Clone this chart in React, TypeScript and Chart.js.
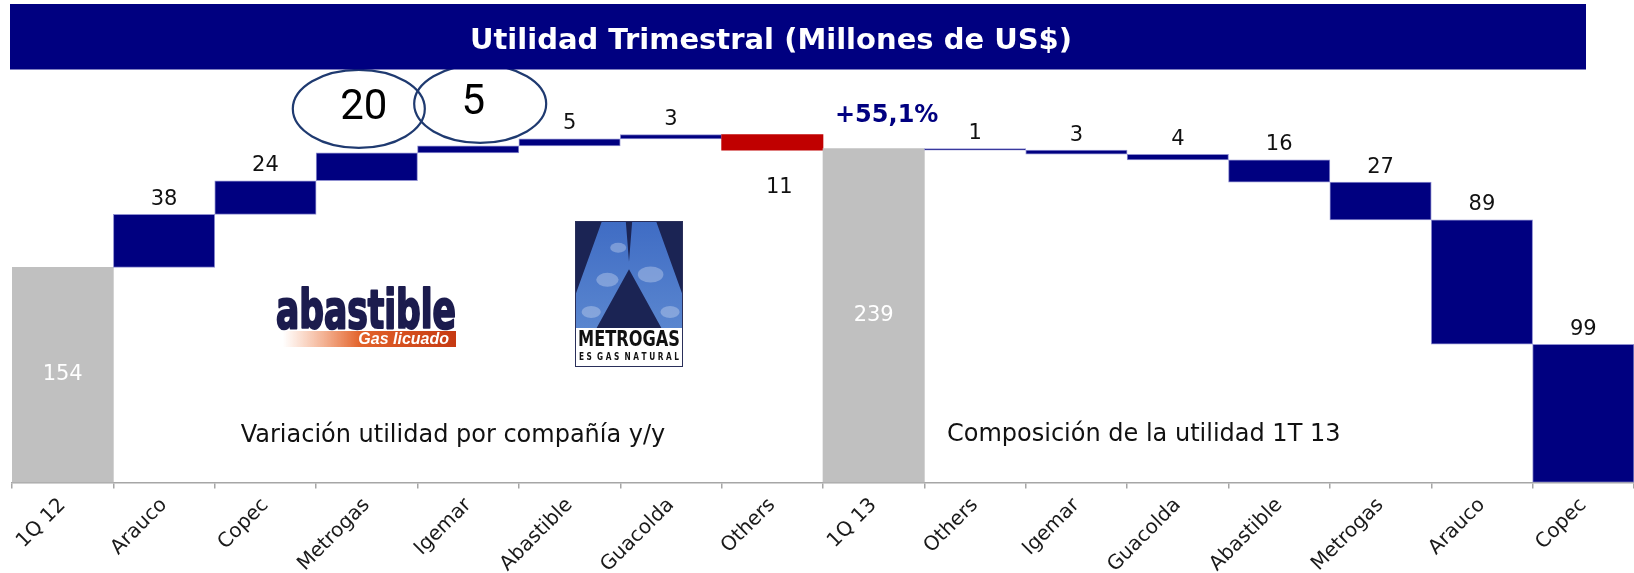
import React, { useEffect, useRef } from 'react';
import { Chart, registerables } from 'chart.js';

Chart.register(...registerables);

// ---------- data ----------
const titleText = 'Utilidad Trimestral (Millones de US$)';
const startLabel = '1Q 12';
const startValue = 154;
const varCompanies = ['Arauco', 'Copec', 'Metrogas', 'Igemar', 'Abastible', 'Guacolda', 'Others'];
const varValues = [38, 24, 20, 5, 5, 3, -11];
const endLabel = '1Q 13';
const endValue = 239;
const compCompanies = ['Others', 'Igemar', 'Guacolda', 'Abastible', 'Metrogas', 'Arauco', 'Copec'];
const compValues = [1, 3, 4, 16, 27, 89, 99];
const circledCompanies = ['Metrogas', 'Igemar'];
const growthLabel = '+55,1%';
const leftNote = 'Variación utilidad por compañía y/y';
const rightNote = 'Composición de la utilidad 1T 13';

// ---------- derived tables ----------
const categories = [startLabel, ...varCompanies, endLabel, ...compCompanies];
const kinds: string[] = ['total', ...varCompanies.map(() => 'var'), 'total', ...compCompanies.map(() => 'comp')];
const labelValues = [startValue, ...varValues, endValue, ...compValues];
const ranges: number[][] = [];
{
  let run = startValue;
  ranges.push([0, startValue]);
  varValues.forEach((v) => {
    ranges.push([run, run + v]);
    run += v;
  });
  ranges.push([0, endValue]);
  run = endValue;
  compValues.forEach((v) => {
    ranges.push([run, run - v]);
    run -= v;
  });
}
const circledIdx = circledCompanies.map((n) => 1 + varCompanies.indexOf(n));
const endIdx = 1 + varCompanies.length;

const NAVY = '#000080';
const GRAY = '#C0C0C0';
const RED = '#C00000';
const FONT = '"DejaVu Sans", Verdana, sans-serif';

const fillColors = ranges.map((r, i) => {
  if (kinds[i] === 'total') return GRAY;
  if (kinds[i] === 'var' && labelValues[i] < 0) return RED;
  return NAVY;
});
const borderColors = ranges.map((r, i) => (fillColors[i] === NAVY ? '#8f8fd0' : 'rgba(0,0,0,0)'));
const borderWidths = ranges.map((r, i) => (fillColors[i] === NAVY ? 1 : 0));

function drawAbastible(ctx: CanvasRenderingContext2D, x: number, y: number) {
  ctx.save();
  ctx.fillStyle = '#1c1c4e';
  ctx.strokeStyle = '#1c1c4e';
  ctx.lineWidth = 2.2;
  ctx.lineJoin = 'round';
  ctx.font = `bold 54px "DejaVu Sans Condensed", "Liberation Sans Narrow", "DejaVu Sans", sans-serif`;
  ctx.textAlign = 'left';
  ctx.textBaseline = 'alphabetic';
  ctx.fillText('abastible', x + 1, y + 38, 180);
  ctx.strokeText('abastible', x + 1, y + 38, 180);
  const g = ctx.createLinearGradient(x + 8, 0, x + 180, 0);
  g.addColorStop(0, 'rgba(240,120,60,0)');
  g.addColorStop(0.45, '#e2622a');
  g.addColorStop(1, '#c63a12');
  ctx.fillStyle = g;
  ctx.fillRect(x + 8, y + 41, 173, 16);
  ctx.fillStyle = '#ffffff';
  ctx.font = `italic bold 16px "Liberation Sans", Arial, sans-serif`;
  ctx.textAlign = 'right';
  ctx.textBaseline = 'middle';
  ctx.fillText('Gas licuado', x + 174, y + 49.5);
  ctx.restore();
}

function drawMetrogas(ctx: CanvasRenderingContext2D, x: number, y: number) {
  const w = 108;
  const h = 107;
  const total = 146;
  ctx.save();
  ctx.fillStyle = '#ffffff';
  ctx.fillRect(x, y, w, total);
  ctx.fillStyle = '#1b2454';
  ctx.fillRect(x, y, w, h);
  const g = ctx.createLinearGradient(0, y, 0, y + h);
  g.addColorStop(0, '#3f6cc4');
  g.addColorStop(1, '#5a86cf');
  ctx.fillStyle = g;
  ctx.beginPath();
  const P = (fx: number, fy: number) => [x + fx * w, y + fy * h];
  const pts = [
    P(0.25, 0), P(0.47, 0), P(0.5, 0.38), P(0.53, 0), P(0.75, 0), P(1, 0.7), P(1, 1),
    P(0.8, 1), P(0.5, 0.45), P(0.2, 1), P(0, 1), P(0, 0.7),
  ];
  pts.forEach((p, i) => (i === 0 ? ctx.moveTo(p[0], p[1]) : ctx.lineTo(p[0], p[1])));
  ctx.closePath();
  ctx.fill();
  ctx.fillStyle = 'rgba(220,230,245,0.35)';
  [[0.3, 0.55, 7], [0.7, 0.5, 8], [0.15, 0.85, 6], [0.88, 0.85, 6], [0.4, 0.25, 5]].forEach((c) => {
    ctx.beginPath();
    ctx.ellipse(x + c[0] * w, y + c[1] * h, c[2] * 1.6, c[2], 0, 0, Math.PI * 2);
    ctx.fill();
  });
  ctx.strokeStyle = '#2a2f5a';
  ctx.lineWidth = 1;
  ctx.strokeRect(x + 0.5, y + 0.5, w - 1, total - 1);
  ctx.fillStyle = '#111111';
  ctx.textAlign = 'center';
  ctx.textBaseline = 'middle';
  ctx.font = `bold 22px "DejaVu Sans Condensed", "Liberation Sans Narrow", sans-serif`;
  ctx.fillText('METROGAS', x + w / 2, y + 119, w - 6);
  ctx.font = `bold 11px "DejaVu Sans Condensed", "Liberation Sans Narrow", sans-serif`;
  ctx.fillText('E S  G A S  N A T U R A L', x + w / 2, y + 136, w - 8);
  ctx.restore();
}

const decorPlugin = {
  id: 'waterfallDecor',
  afterDatasetsDraw(chart: any) {
    const ctx: CanvasRenderingContext2D = chart.ctx;
    const bars = chart.getDatasetMeta(0).data;
    const area = chart.chartArea;
    ctx.save();
    ctx.textAlign = 'center';
    ctx.textBaseline = 'middle';
    bars.forEach((el: any, i: number) => {
      const p = el.getProps(['x', 'y', 'base'], true);
      const top = Math.min(p.y, p.base);
      const bottom = Math.max(p.y, p.base);
      const txt = String(Math.abs(labelValues[i]));
      if (kinds[i] === 'total') {
        ctx.fillStyle = '#ffffff';
        ctx.font = `21px ${FONT}`;
        ctx.fillText(txt, p.x, (top + bottom) / 2);
      } else if (circledIdx.includes(i)) {
        // drawn below as callouts
      } else if (labelValues[i] < 0 && kinds[i] === 'var') {
        ctx.fillStyle = '#111111';
        ctx.font = `21px ${FONT}`;
        ctx.fillText(txt, p.x + 7, bottom + 37);
      } else {
        ctx.fillStyle = '#111111';
        ctx.font = `21px ${FONT}`;
        ctx.fillText(txt, p.x, top - 15);
      }
    });
    const dxs = [-8, 12];
    const tdx = [-3, 5];
    const dys = [44, 42];
    circledIdx.forEach((idx, k) => {
      const p = bars[idx].getProps(['x', 'y', 'base'], true);
      const top = Math.min(p.y, p.base);
      ctx.strokeStyle = '#1f3a70';
      ctx.lineWidth = 2.2;
      ctx.beginPath();
      ctx.ellipse(p.x + dxs[k], top - dys[k], 66, 39, 0, 0, Math.PI * 2);
      ctx.stroke();
      ctx.fillStyle = '#000000';
      ctx.font = `42px Roboto, "Liberation Sans", sans-serif`;
      ctx.fillText(String(Math.abs(labelValues[idx])), p.x + tdx[k], top - dys[k]);
    });
    {
      const p = bars[endIdx].getProps(['x', 'y', 'base'], true);
      const top = Math.min(p.y, p.base);
      ctx.fillStyle = NAVY;
      ctx.font = `bold 24px ${FONT}`;
      ctx.fillText(growthLabel, p.x + 13, top - 33);
    }
    ctx.fillStyle = '#111111';
    ctx.font = `24px ${FONT}`;
    ctx.textAlign = 'center';
    ctx.fillText(leftNote, area.left + 441, area.bottom - 47);
    ctx.textAlign = 'left';
    ctx.fillText(rightNote, area.left + 935, area.bottom - 48);
    drawAbastible(ctx, area.left + 263, 290);
    drawMetrogas(ctx, area.left + 563, 221);
    ctx.fillStyle = NAVY;
    ctx.fillRect(10, 4, 1576, 65.5);
    ctx.fillStyle = '#ffffff';
    ctx.font = `bold 29px ${FONT}`;
    ctx.textAlign = 'center';
    ctx.textBaseline = 'middle';
    ctx.fillText(titleText, 771, 41);
    ctx.restore();
  },
};

export default function App() {
  const ref = useRef<HTMLCanvasElement | null>(null);
  useEffect(() => {
    if (!ref.current) return;
    const chart = new Chart(ref.current, {
      type: 'bar',
      data: {
        labels: categories,
        datasets: [
          {
            data: ranges as any,
            backgroundColor: fillColors,
            borderColor: borderColors,
            borderWidth: borderWidths,
            borderSkipped: false,
            barPercentage: 1,
            categoryPercentage: 1,
          },
        ],
      },
      options: {
        animation: false,
        responsive: false,
        devicePixelRatio: 1,
        layout: { padding: { top: 90, left: 12, right: 0, bottom: 0 } },
        plugins: { legend: { display: false }, tooltip: { enabled: false }, title: { display: false } },
        scales: {
          x: {
            afterFit: (scale: any) => {
              scale.height = 90.5;
            },
            grid: {
              display: true,
              drawOnChartArea: false,
              drawTicks: true,
              tickLength: 6,
              color: '#a6a6a6',
              lineWidth: 1.5,
              offset: true,
            },
            border: { display: true, color: '#a6a6a6', width: 1.5 },
            ticks: {
              minRotation: 45,
              maxRotation: 45,
              autoSkip: false,
              padding: 5,
              color: '#1a1a1a',
              font: { family: FONT, size: 20 },
            },
          },
          y: { display: false, min: 0, max: 281 },
        },
      },
      plugins: [decorPlugin],
    });
    return () => chart.destroy();
  }, []);
  return (
    <div style={{ position: 'fixed', left: 0, top: 0, width: 1634, height: 573, background: '#ffffff' }}>
      <canvas ref={ref} width={1634} height={573} style={{ width: 1634, height: 573, display: 'block' }} />
    </div>
  );
}
